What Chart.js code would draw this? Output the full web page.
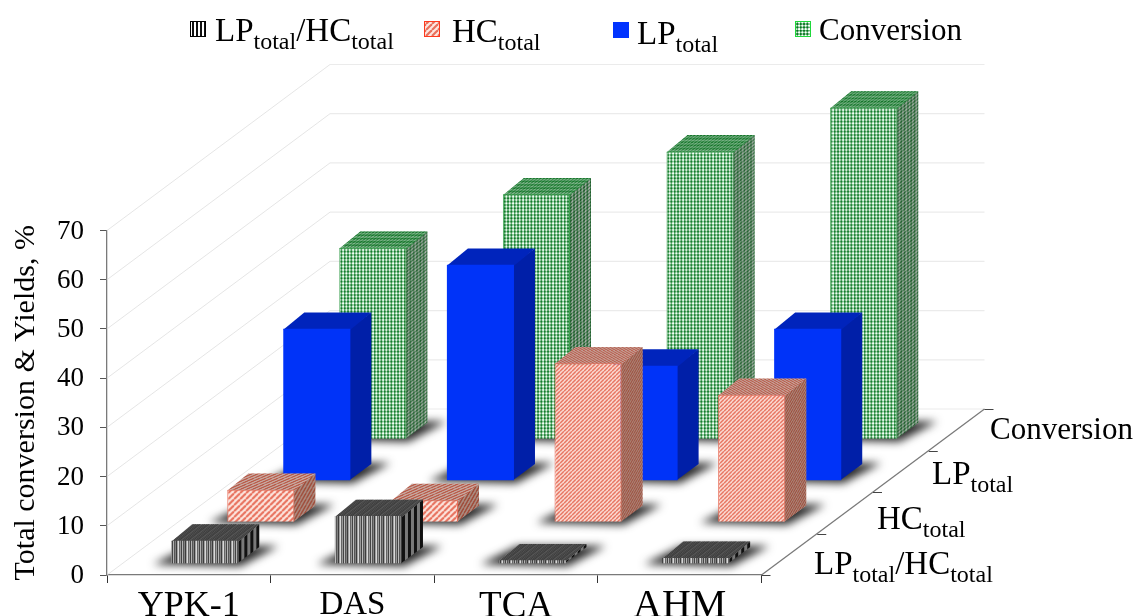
<!DOCTYPE html>
<html>
<head>
<meta charset="utf-8">
<style>html,body{margin:0;padding:0;background:#fff;overflow:hidden}canvas{display:block}</style>
<script src="https://cdn.jsdelivr.net/npm/chart.js@4"></script>
</head>
<body>
<canvas id="c" width="1134" height="616"></canvas>
<script>
const categories = ['YPK-1', 'DAS', 'TCA', 'AHM'];
const ratioValues = [4.7, 9.7, 0.7, 1.2];
const hcValues = [6.6, 4.5, 32.3, 25.9];
const lpValues = [30.9, 43.9, 23.4, 30.9];
const conversionValues = [38.9, 49.8, 58.5, 67.4];
const yTicks = [0, 10, 20, 30, 40, 50, 60, 70];
const seriesNames = ['LPtotal/HCtotal', 'HCtotal', 'LPtotal', 'Conversion'];
const categoryFontSizes = [36, 33, 37, 40];
const categoryLabelNudge = [1, 2, 1, -2];

const FONT = '"Liberation Serif"';
const WALL_DX = 223, WALL_DY = 166;        // floor depth
const ROW_DX = 56, ROW_DY = WALL_DY / 4;
const FRONT_DX = 16, FRONT_DY = 11.2;      // first row inset
const BOX_DX = 21, BOX_DY = 16.3;          // depth of a box

function tile(w, h, draw) {
  const c = document.createElement('canvas');
  c.width = w; c.height = h;
  draw(c.getContext('2d'), w, h);
  return c;
}
const px = document.createElement('canvas').getContext('2d');
function pat(canvas, m) {
  const p = px.createPattern(canvas, 'repeat');
  if (m) p.setTransform(new DOMMatrix(m));
  return p;
}
const stripeTile = tile(9, 4, (g, w, h) => {
  ['#d8d8d8', '#666', '#999', '#444', '#bbb', '#555', '#808080', '#3c3c3c', '#a0a0a0'].forEach((col, i) => {
    g.fillStyle = col; g.fillRect(i, 0, 1, h);
  });
});
const stripeSideTile = tile(6, 4, (g, w, h) => {
  g.fillStyle = '#8a8a8a'; g.fillRect(0, 0, w, h);
  g.fillStyle = '#141414'; g.fillRect(0, 0, 3, h);
});
function hatchTile(p, dark, light) {
  return tile(p, p, (g) => {
    g.fillStyle = light; g.fillRect(0, 0, p, p);
    g.strokeStyle = dark; g.lineWidth = p * 0.36;
    for (let k = -1; k <= 1; k++) {
      g.beginPath();
      g.moveTo(k * p, p); g.lineTo(k * p + p, 0);
      g.stroke();
    }
  });
}
const hatchCoarse = hatchTile(6, '#e8705c', '#fde6df');
const hatchFine = hatchTile(4, '#e4644e', '#fee8e2');
const gridTile = tile(10, 10, (g) => {
  g.fillStyle = '#fff'; g.fillRect(0, 0, 10, 10);
  g.fillStyle = 'rgba(60,170,85,0.75)';
  for (let k = 0; k < 3; k++) {
    g.fillRect(k * 10 / 3, 0, 1.4, 10);
    g.fillRect(0, k * 10 / 3, 10, 1.4);
  }
  g.fillStyle = '#0a6e20';
  for (let a = 0; a < 3; a++) for (let b = 0; b < 3; b++) {
    g.fillRect(a * 10 / 3 - 0.2, b * 10 / 3 - 0.2, 1.8, 1.8);
  }
});
const legendStripe = tile(4, 4, (g) => {
  g.fillStyle = '#fff'; g.fillRect(0, 0, 4, 4);
  g.fillStyle = '#111'; g.fillRect(0, 0, 2, 4);
});

function skewSide(x, y) { return [1, -BOX_DY / BOX_DX, 0, 1, x, y]; }
function skewTop(x, y) { return [1, 0, -BOX_DX / BOX_DY, 1, x, y]; }

const faceStyles = [
  { side: (x, y) => pat(stripeSideTile, skewSide(x, y)), sideShade: 'rgba(0,0,0,0.12)',
    top: (x, y) => pat(stripeTile, skewTop(x, y)), topShade: 'rgba(60,60,60,0.82)' },
  { side: (x, y, v) => pat(v > 20 ? hatchFine : hatchCoarse, skewSide(x, y)), sideShade: 'rgba(70,30,15,0.45)',
    top: (x, y, v) => pat(v > 20 ? hatchFine : hatchCoarse, skewTop(x, y)), topShade: 'rgba(60,20,10,0.28)' },
  { side: () => '#001fa8', sideShade: null, top: () => '#0024bc', topShade: null },
  { side: (x, y) => pat(gridTile, skewSide(x, y)), sideShade: 'rgba(50,60,50,0.42)',
    top: (x, y) => pat(gridTile, skewTop(x, y)), topShade: 'rgba(20,110,40,0.5)' }
];

function rowShift(i) { return [FRONT_DX + i * ROW_DX, -(FRONT_DY + i * ROW_DY)]; }

function poly(ctx, pts, fill) {
  ctx.beginPath();
  pts.forEach((p, i) => i ? ctx.lineTo(p[0], p[1]) : ctx.moveTo(p[0], p[1]));
  ctx.closePath();
  ctx.fillStyle = fill;
  ctx.fill();
}

function subText(ctx, parts, x, base) {
  ctx.textAlign = 'left';
  ctx.textBaseline = 'alphabetic';
  ctx.fillStyle = '#000';
  const main = parts.length === 1 ? 31 : 33;
  parts.forEach(part => {
    const sub = part === 'total';
    ctx.font = (sub ? 24 : main) + 'px ' + FONT;
    ctx.fillText(part, x, base + (sub ? 7.5 : 0));
    x += ctx.measureText(part).width;
  });
}
function splitName(n) { return n.split(/(total)/).filter(Boolean); }

const legendBoxes = [[190, 21], [424, 21], [613, 22], [795, 21]];
const legendText = [[215, 41], [452, 42], [637, 44], [819, 40]];
const legendFill = [
  () => pat(legendStripe), () => pat(hatchCoarse), () => '#0033ff', () => pat(gridTile)
];
const legendEdge = ['#000', '#ff3a1e', '#0033ff', '#1ed83a'];
const depthText = [[814, 574], [877, 529], [932, 484], [990, 439]];

const box3d = {
  id: 'box3d',
  beforeDraw(chart) {
    chart.scales.x.getLabelItems().forEach((it, i) => { it.options.translation[1] += categoryLabelNudge[i]; });
    chart.scales.y.getLabelItems().forEach(it => { it.options.translation[1] += 1; });
  },
  beforeDatasetsDraw(chart) {
    const { ctx, scales: { x, y } } = chart;
    const L = x.left, R = x.right, B = y.bottom;
    ctx.save();
    // walls: one line per tick of the value axis
    y.ticks.forEach(t => {
      const py = y.getPixelForValue(t.value);
      ctx.strokeStyle = '#dedede'; ctx.lineWidth = 0.8;
      ctx.beginPath(); ctx.moveTo(L, py); ctx.lineTo(L + WALL_DX, py - WALL_DY); ctx.stroke();
      ctx.strokeStyle = '#ebebeb'; ctx.lineWidth = 1.2;
      ctx.beginPath(); ctx.moveTo(L + WALL_DX, py - WALL_DY); ctx.lineTo(R + WALL_DX, py - WALL_DY); ctx.stroke();
    });
    // right floor edge with the depth ticks
    ctx.strokeStyle = '#7a7a7a'; ctx.lineWidth = 1.3;
    ctx.beginPath(); ctx.moveTo(R, B); ctx.lineTo(R + WALL_DX, B - WALL_DY); ctx.stroke();
    ctx.strokeStyle = '#444'; ctx.lineWidth = 1;
    for (let i = 0; i <= 4; i++) {
      const tx = R + i * WALL_DX / 4, ty = Math.round(B - i * ROW_DY) + 0.5;
      ctx.beginPath(); ctx.moveTo(tx, ty); ctx.lineTo(tx + 9, ty); ctx.stroke();
    }
    // floor shadows
    ctx.filter = 'blur(4px)';
    chart.data.datasets.forEach((ds, i) => {
      const [sx, sy] = rowShift(i);
      chart.getDatasetMeta(i).data.forEach(el => {
        const x0 = el.x - el.width / 2 + sx, x1 = el.x + el.width / 2 + sx, b = el.base + sy;
        poly(ctx, [[x0 - 18, b + 1], [x1 + 2, b + 3], [x1 + BOX_DX + 19, b - BOX_DY - 1], [x0 + BOX_DX - 2, b - BOX_DY - 1]], 'rgba(30,30,30,0.95)');
      });
    });
    ctx.restore();
  },
  beforeDatasetDraw(chart, args) {
    const { ctx } = chart;
    const i = args.index;
    const [sx, sy] = rowShift(i);
    const st = faceStyles[i];
    const vals = chart.data.datasets[i].data;
    ctx.save();
    ctx.translate(sx, sy);
    args.meta.data.forEach((el, k) => {
      const x1 = el.x + el.width / 2, x0 = el.x - el.width / 2, t = el.y, b = el.base, v = vals[k];
      const sidePts = [[x1 - 1, t], [x1 + BOX_DX, t - BOX_DY], [x1 + BOX_DX, b - BOX_DY], [x1 - 1, b]];
      const topPts = [[x0, t + 1], [x0 + BOX_DX, t - BOX_DY], [x1 + BOX_DX, t - BOX_DY], [x1, t + 1]];
      poly(ctx, sidePts, st.side(x1, t, v));
      if (st.sideShade) poly(ctx, sidePts, st.sideShade);
      poly(ctx, topPts, st.top(x0, t, v));
      if (st.topShade) poly(ctx, topPts, st.topShade);
    });
  },
  afterDatasetDraw(chart) {
    chart.ctx.restore();
  },
  afterDraw(chart) {
    const { ctx } = chart;
    ctx.save();
    seriesNames.forEach((name, i) => {
      const [bx, by] = legendBoxes[i];
      ctx.fillStyle = legendFill[i]();
      ctx.fillRect(bx, by, 16, 16);
      ctx.strokeStyle = legendEdge[i]; ctx.lineWidth = 1;
      ctx.strokeRect(bx + 0.5, by + 0.5, 15, 15);
      subText(ctx, splitName(name), legendText[i][0], legendText[i][1]);
      subText(ctx, splitName(name), depthText[i][0], depthText[i][1]);
    });
    ctx.restore();
  }
};

new Chart(document.getElementById('c'), {
  type: 'bar',
  plugins: [box3d],
  data: {
    labels: categories,
    datasets: [
      { label: seriesNames[0], data: ratioValues, backgroundColor: pat(stripeTile), borderWidth: 0 },
      { label: seriesNames[1], data: hcValues,
        backgroundColor: c => pat(c.raw > 20 ? hatchFine : hatchCoarse), borderColor: '#e8705c', borderWidth: 1 },
      { label: seriesNames[2], data: lpValues, backgroundColor: '#0033f8', borderWidth: 0 },
      { label: seriesNames[3], data: conversionValues, backgroundColor: pat(gridTile), borderColor: '#3fa352', borderWidth: 1 }
    ]
  },
  options: {
    responsive: false,
    animation: false,
    events: [],
    clip: false,
    grouped: false,
    barPercentage: 0.41,
    categoryPercentage: 1,
    layout: { padding: { top: 230.5, right: 372.5, bottom: 0, left: 0 } },
    plugins: { legend: { display: false }, tooltip: { enabled: false } },
    scales: {
      x: {
        afterFit(s) { s.height = 41; },
        border: { color: '#7a7a7a', width: 1.3 },
        grid: { drawOnChartArea: false, drawTicks: true, tickLength: 8, color: '#333' },
        ticks: {
          autoSkip: false, maxRotation: 0, minRotation: 0, padding: 1, color: '#000',
          font: c => ({ family: FONT, size: categoryFontSizes[c.index] })
        }
      },
      y: {
        min: 0, max: 70,
        afterFit(s) { s.width = 107; },
        afterBuildTicks(s) { s.ticks = yTicks.map(v => ({ value: v })); },
        border: { color: '#7a7a7a', width: 1.3 },
        grid: { drawOnChartArea: false, drawTicks: true, tickLength: 7, color: '#555' },
        ticks: { autoSkip: false, padding: 16, color: '#000', font: { family: FONT, size: 27 } },
        title: {
          display: true, text: 'Total conversion & Yields, %', color: '#000',
          font: { family: FONT, size: 30 }, padding: { top: 8, bottom: 0 }
        }
      }
    }
  }
});
</script>
</body>
</html>
